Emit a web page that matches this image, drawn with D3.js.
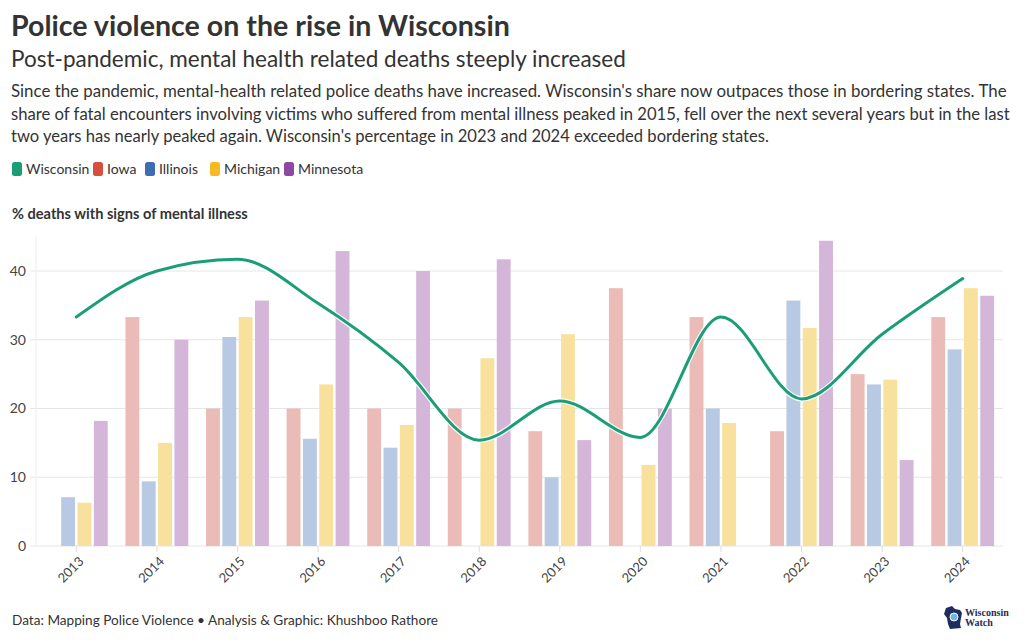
<!DOCTYPE html>
<html><head><meta charset="utf-8">
<script src="https://cdn.jsdelivr.net/npm/d3@7"></script>
<style>
html,body{margin:0;padding:0;background:#fff;}
svg{display:block;font-family:Lato, "Open Sans", sans-serif;}
</style></head>
<body>
<svg id="chart" width="1024" height="643"></svg>
<script>
const years = ["2013","2014","2015","2016","2017","2018","2019","2020","2021","2022","2023","2024"];
const wisconsin = [33.3, 40.0, 41.7, 35.3, 26.7, 15.4, 21.1, 15.8, 33.3, 21.4, 30.8, 38.9];
const iowa      = [null, 33.3, 20.0, 20.0, 20.0, 20.0, 16.7, 37.5, 33.3, 16.7, 25.0, 33.3];
const illinois  = [7.1, 9.4, 30.4, 15.6, 14.3, null, 10.0, null, 20.0, 35.7, 23.5, 28.6];
const michigan  = [6.3, 15.0, 33.3, 23.5, 17.6, 27.3, 30.8, 11.8, 17.9, 31.7, 24.2, 37.5];
const minnesota = [18.2, 30.0, 35.7, 42.9, 40.0, 41.7, 15.4, 20.0, null, 44.4, 12.5, 36.4];
const barStates = ["Iowa","Illinois","Michigan","Minnesota"];
const barSeries = [iowa, illinois, michigan, minnesota];
const legendNames = ["Wisconsin","Iowa","Illinois","Michigan","Minnesota"];
const yTicks = [0, 10, 20, 30, 40];

const colors = {Wisconsin:"#1b9e77", Iowa:"#d6503f", Illinois:"#3e6db5", Michigan:"#f4bb25", Minnesota:"#8b49a3"};
const barFill = {Iowa:"#ebbcb7", Illinois:"#b8c9e3", Michigan:"#f8e19d", Minnesota:"#d3b6d8"};

const svg = d3.select("#chart");
const textCol = "#333";

function fitText(sel, targetW){
  const w = sel.node().getComputedTextLength();
  const fs = parseFloat(sel.attr("font-size"));
  sel.attr("font-size", (fs*targetW/w).toFixed(2));
  return sel;
}

// Headings
fitText(svg.append("text").attr("x",11).attr("y",36).attr("font-size",30).attr("font-weight",700)
  .attr("fill",textCol).text("Police violence on the rise in Wisconsin"), 499);
fitText(svg.append("text").attr("x",11).attr("y",67).attr("font-size",22).attr("fill",textCol)
  .text("Post-pandemic, mental health related deaths steeply increased"), 615);
const body = [
  ["Since the pandemic, mental-health related police deaths have increased. Wisconsin's share now outpaces those in bordering states. The", 996],
  ["share of fatal encounters involving victims who suffered from mental illness peaked in 2015, fell over the next several years but in the last", 999],
  ["two years has nearly peaked again. Wisconsin's percentage in 2023 and 2024 exceeded bordering states.", 758]
];
body.forEach((b,i)=>{
  fitText(svg.append("text").attr("x",11).attr("y",97+i*22.5).attr("font-size",16).attr("fill",textCol).text(b[0]), b[1]);
});

// Legend
const legendX = [12, 93, 145, 210, 284];
legendNames.forEach((n,i)=>{
  const g = svg.append("g").attr("transform",`translate(${legendX[i]},162)`);
  g.append("rect").attr("width",10).attr("height",14).attr("rx",2.5).attr("fill",colors[n]);
  g.append("text").attr("x",14).attr("y",12).attr("font-size",14).attr("fill",textCol).text(n);
});

// Axis title
fitText(svg.append("text").attr("x",12).attr("y",219).attr("font-size",13).attr("font-weight",700)
  .attr("fill",textCol).text("% deaths with signs of mental illness"), 236);

// Scales
const plotL = 36, plotR = 1003, plotB = 546;
const y = d3.scaleLinear().domain([0,45]).range([plotB, plotB-45*6.875]);
const x0 = d3.scaleBand().domain(years).range([plotL, plotR]).paddingInner(0.22).paddingOuter(0.11);
const x1 = d3.scaleBand().domain(barStates).range([0, x0.bandwidth()]).paddingInner(0.15);
const cx = d => x0(d) + x0.bandwidth()/2;

// Grid
const grid = svg.append("g");
grid.selectAll("line").data(yTicks).join("line")
  .attr("x1", plotL-6).attr("x2", plotR).attr("y1", d=>y(d)).attr("y2", d=>y(d))
  .attr("stroke","#e6e6e6").attr("stroke-width",1);
grid.append("line").attr("x1",plotL).attr("x2",plotL).attr("y1",y(45)).attr("y2",plotB).attr("stroke","#ececec");
svg.append("g").selectAll("text").data(yTicks).join("text")
  .attr("x", 26).attr("y", d=>y(d)).attr("dy","0.35em").attr("text-anchor","end")
  .attr("font-size",14).attr("fill","#444").text(d=>d);

// Bars
const barData = [];
years.forEach((yr,i)=>{
  barStates.forEach((s,j)=>{
    const v = barSeries[j][i];
    if (v != null) barData.push({yr, s, v});
  });
});
svg.append("g").selectAll("rect").data(barData).join("rect")
  .attr("x", d=>x0(d.yr)+x1(d.s)).attr("width", x1.bandwidth())
  .attr("y", d=>y(d.v)).attr("height", d=>y(0)-y(d.v))
  .attr("fill", d=>barFill[d.s]);

// X axis ticks & labels
const xa = svg.append("g");
xa.selectAll("line").data(years).join("line")
  .attr("x1", d=>cx(d)).attr("x2", d=>cx(d)).attr("y1", plotB).attr("y2", plotB+6)
  .attr("stroke","#ddd");
xa.selectAll("text").data(years).join("text")
  .attr("transform", d=>`translate(${cx(d)+5},${plotB+13}) rotate(-45)`)
  .attr("text-anchor","end").attr("dy","0.35em").attr("font-size",13).attr("fill","#444").text(d=>d);

// Wisconsin line
const line = d3.line().x((d,i)=>cx(years[i])).y(d=>y(d)).curve(d3.curveMonotoneX);
svg.append("path").attr("d", line(wisconsin)).attr("fill","none").attr("stroke","#fff")
  .attr("stroke-width",5.5).attr("stroke-opacity",0.85).attr("stroke-linecap","round");
svg.append("path").attr("d", line(wisconsin)).attr("fill","none").attr("stroke",colors.Wisconsin)
  .attr("stroke-width",3).attr("stroke-linecap","round");

// Footer
fitText(svg.append("text").attr("x",12).attr("y",625).attr("font-size",14).attr("fill",textCol)
  .text("Data: Mapping Police Violence • Analysis & Graphic: Khushboo Rathore"), 426);

// Logo
const logo = svg.append("g").attr("transform","translate(944,606)");
logo.append("path").attr("d","M2,2 L8,0 L11,3 L16,4 L18,7 L17,12 L16,18 L17,22 L6,23 L4,18 L3,12 L0,8 Z").attr("fill","#1f2c5e");
logo.append("circle").attr("cx",10).attr("cy",11).attr("r",4).attr("fill","#6fb6e3").attr("stroke","#fff").attr("stroke-width",1);
logo.append("text").attr("x",21).attr("y",10).attr("font-family","Liberation Serif, serif").attr("font-weight",700)
  .attr("font-size",10).attr("fill","#1f2c5e").text("Wisconsin");
logo.append("text").attr("x",21).attr("y",20).attr("font-family","Liberation Serif, serif").attr("font-weight",700)
  .attr("font-size",10).attr("fill","#1f2c5e").text("Watch");
</script>
</body></html>
